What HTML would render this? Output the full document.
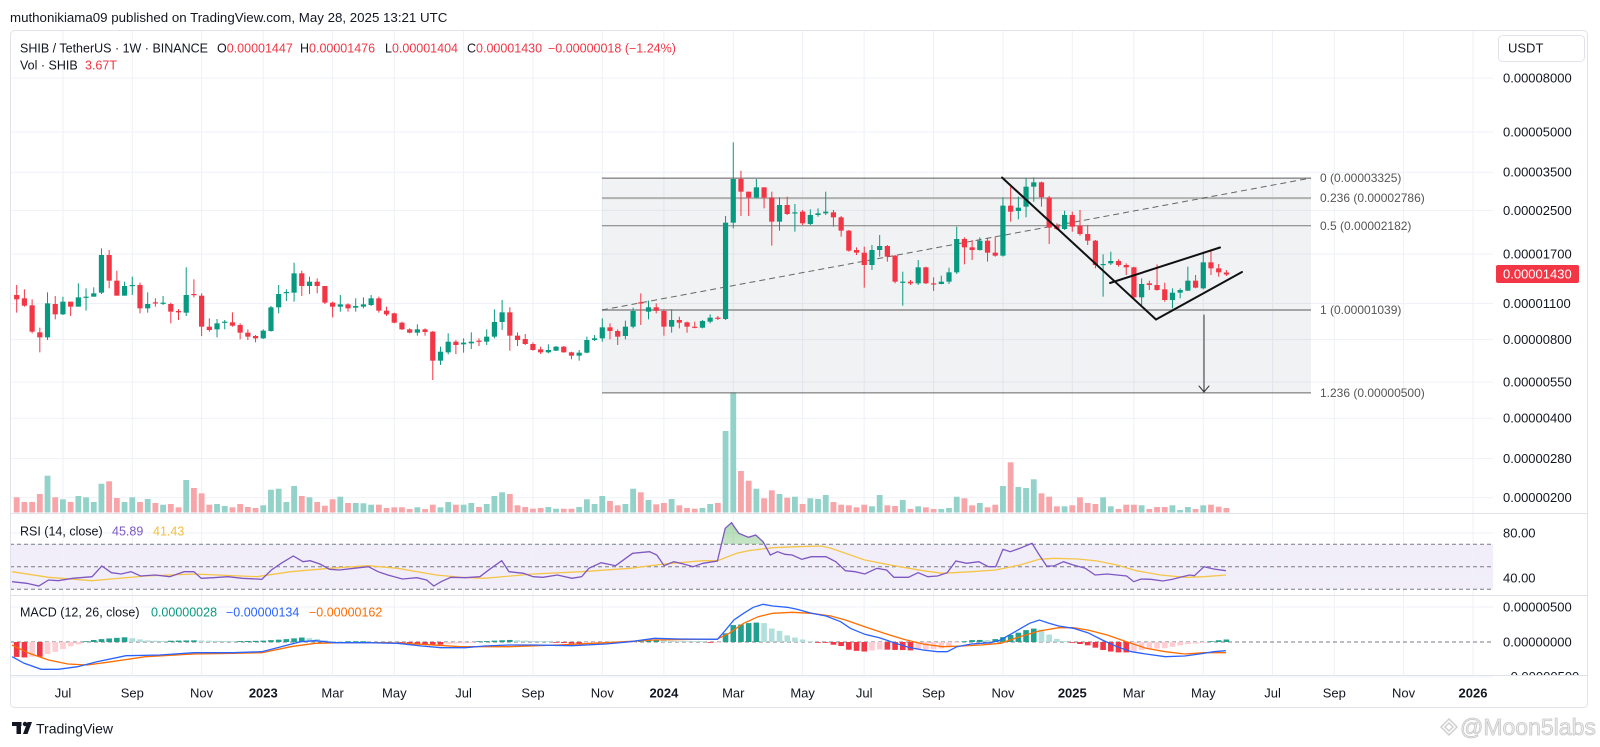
<!DOCTYPE html>
<html><head><meta charset="utf-8">
<style>
html,body{margin:0;padding:0;background:#fff;}
svg{display:block;font-family:"Liberation Sans",Arial,sans-serif;}
</style></head>
<body>
<svg id="c" width="1600" height="747" viewBox="0 0 1600 747" xmlns="http://www.w3.org/2000/svg">
<defs>
<clipPath id="obClip"><rect x="10" y="500" width="1483" height="44.3"/></clipPath>
<clipPath id="macdClip"><rect x="1490" y="596" width="100" height="79"/></clipPath>
<linearGradient id="gfill" x1="0" y1="0" x2="0" y2="1"><stop offset="0" stop-color="#4caf50" stop-opacity="0.45"/><stop offset="1" stop-color="#4caf50" stop-opacity="0.05"/></linearGradient>
</defs>
<rect width="1600" height="747" fill="#fff"/>
<rect x="10" y="544.3" width="1483" height="45" fill="#f2eef9"/>
<g id="grid"></g>
<g id="vol"></g>
<g id="fib">
<rect x="602" y="178.1" width="709" height="214.8" fill="#787b86" fill-opacity="0.1"/>
<line x1="602" x2="1311" y1="178.1" y2="178.1" stroke="#5d5d5d" stroke-width="1"/>
<line x1="602" x2="1311" y1="198.1" y2="198.1" stroke="#b0b0b0" stroke-width="2"/>
<line x1="602" x2="1311" y1="225.8" y2="225.8" stroke="#7a7a7a" stroke-width="1"/>
<line x1="602" x2="1311" y1="310" y2="310" stroke="#a5a5a5" stroke-width="2"/>
<line x1="602" x2="1311" y1="392.9" y2="392.9" stroke="#666" stroke-width="1"/>
<line x1="602" y1="310" x2="1311" y2="178" stroke="#666" stroke-width="1" stroke-dasharray="6,4"/>
</g>
<g id="candles"></g>
<g id="draw" stroke="#111" stroke-width="2" fill="none" stroke-linecap="round">
<line x1="1002" y1="177.5" x2="1156" y2="319.5"/>
<line x1="1156" y1="319.5" x2="1242" y2="272"/>
<line x1="1110" y1="283" x2="1220" y2="247.5"/>
<line x1="1204" y1="315" x2="1204" y2="392" stroke="#333" stroke-width="1"/>
<polyline points="1199,386 1204,392 1209,386" stroke="#333" stroke-width="1"/>
</g>
<g stroke="#787b86" stroke-width="1" stroke-dasharray="4,3">
<line x1="10" x2="1493" y1="544.3" y2="544.3"/>
<line x1="10" x2="1493" y1="566.8" y2="566.8"/>
<line x1="10" x2="1493" y1="589.3" y2="589.3"/>
<line x1="10" x2="1493" y1="642" y2="642"/>
</g>
<g id="ind"></g>
<rect x="10.5" y="30.5" width="1577" height="677" rx="4" fill="none" stroke="#e0e3eb"/>
<g stroke="#e0e3eb" stroke-width="1">
<line x1="10" x2="1588" y1="513.5" y2="513.5"/>
<line x1="10" x2="1588" y1="595.5" y2="595.5"/>
<line x1="10" x2="1588" y1="675.5" y2="675.5"/>
</g>
<g id="axis"></g>
<g font-size="12" fill="#555">
<text x="1320" y="182.2">0 (0.00003325)</text>
<text x="1320" y="202.2">0.236 (0.00002786)</text>
<text x="1320" y="229.9">0.5 (0.00002182)</text>
<text x="1320" y="314.1">1 (0.00001039)</text>
<text x="1320" y="397">1.236 (0.00000500)</text>
</g>
<text x="10" y="22" font-size="13.3" fill="#131722">muthonikiama09 published on TradingView.com, May 28, 2025 13:21 UTC</text>
<g font-size="12.5" fill="#131722">
<text x="20" y="52.5">SHIB / TetherUS · 1W · BINANCE</text>
<text x="217" y="52.5">O<tspan fill="#f23645">0.00001447</tspan></text>
<text x="300" y="52.5">H<tspan fill="#f23645">0.00001476</tspan></text>
<text x="385" y="52.5">L<tspan fill="#f23645">0.00001404</tspan></text>
<text x="467" y="52.5">C<tspan fill="#f23645">0.00001430</tspan></text>
<text x="548" y="52.5" fill="#f23645">−0.00000018 (−1.24%)</text>
<text x="20" y="69.5">Vol · SHIB</text>
<text x="85" y="69.5" fill="#f23645">3.67T</text>
<text x="20" y="535.5">RSI (14, close)</text>
<text x="112" y="535.5" fill="#7e57c2">45.89</text>
<text x="153" y="535.5" fill="#f2bf3c">41.43</text>
<text x="20" y="616.5">MACD (12, 26, close)</text>
<text x="151" y="616.5" fill="#089981">0.00000028</text>
<text x="226" y="616.5" fill="#2962ff">−0.00000134</text>
<text x="309" y="616.5" fill="#ff6d00">−0.00000162</text>
</g>
<rect x="1498.5" y="35.5" width="86" height="26" rx="4" fill="#fff" stroke="#e0e3eb"/>
<text x="1508" y="52.5" font-size="13" fill="#131722">USDT</text>
<g font-size="13" fill="#131722">
<text x="1503" y="537.5">80.00</text>
<text x="1503" y="582.5">40.00</text>
<text x="1503" y="611.5">0.00000500</text>
<text x="1503" y="646.5">0.00000000</text>
<text x="1503" y="681" clip-path="url(#macdClip)">−0.00000500</text>
</g>
<rect x="1496" y="265" width="83" height="18" rx="2" fill="#f23645"/>
<text x="1503" y="278.5" font-size="13" fill="#fff">0.00001430</text>
<g fill="#131722">
<rect x="12" y="722" width="9.5" height="4"/>
<rect x="16.5" y="722" width="4.5" height="12"/>
<circle cx="25" cy="724" r="2.2"/>
<polygon points="27.5,722 32,722 27.5,734 23,734"/>
</g>
<text x="36" y="733.5" font-size="14" fill="#131722">TradingView</text>
<g fill="none" stroke="#cfcfcf" stroke-width="1.5">
<polygon points="1449,719 1457,727 1449,735 1441,727"/>
<polygon points="1449,723 1453,727 1449,731 1445,727"/>
</g>
<text x="1460" y="735" font-size="23" fill="#ececec" stroke="#c9c9c9" stroke-width="0.8">@Moon5labs</text>
</svg>
<script>
(function(){
const NS="http://www.w3.org/2000/svg";
function E(tag,a,p){const e=document.createElementNS(NS,tag);for(const k in a)e.setAttribute(k,a[k]);p.appendChild(e);return e;}
const G=id=>document.getElementById(id);
const X=i=>16.7+7.705*i;
const tx=[63,132.3,201.6,263.3,332.6,394.3,463.6,533,602.3,663.9,733.3,802.6,864.2,933.6,1003,1072.3,1133.9,1203.3,1272.6,1334.3,1403.6,1473];
const tl=["Jul","Sep","Nov","2023","Mar","May","Jul","Sep","Nov","2024","Mar","May","Jul","Sep","Nov","2025","Mar","May","Jul","Sep","Nov","2026"];
const grid=G('grid'),axis=G('axis');
tx.forEach((x,k)=>{
  E('line',{x1:x,x2:x,y1:31,y2:675,stroke:'#eef1f7'},grid);
  const t=E('text',{x:x,y:697.5,'text-anchor':'middle','font-size':13,fill:'#131722','font-weight':/^\d/.test(tl[k])?'bold':'normal'},axis);
  t.textContent=tl[k];
});
const py=[78,132,172.2,210.4,254.1,303.5,339.6,382,418.2,458.6,497.7];
const pl=["0.00008000","0.00005000","0.00003500","0.00002500","0.00001700","0.00001100","0.00000800","0.00000550","0.00000400","0.00000280","0.00000200"];
py.forEach((y,k)=>{
  E('line',{x1:10,x2:1493,y1:y,y2:y,stroke:'#eef1f7'},grid);
  const t=E('text',{x:1503,y:y+4.5,'font-size':13,fill:'#131722'},axis);t.textContent=pl[k];
});
[533,578,607,677].forEach(y=>E('line',{x1:10,x2:1493,y1:y,y2:y,stroke:'#eef1f7'},grid));

const A=[[195,208,165,248,0],[205,227,178,230,0],[226,305,208,310,0],[307,322,293,367,0],[220,322,187,330,1],[222,253,198,268,0],[215,253,200,255,1],[215,230,215,258,0],[202,230,160,230,1],[200,203,175,242,1],[190,200,172,200,1],[75,188,55,192,1],[75,152,60,175,0],[152,197,122,197,0],[168,197,155,197,1],[165,168,140,195,1],[165,235,158,250,0],[222,235,187,248,1],[217,220,205,230,0],[218,221,198,225,1],[222,245,218,280,0],[243,247,237,270,0],[195,248,112,258,1],[192,195,148,202,0],[197,290,190,318,0],[290,300,265,305,0],[280,298,267,322,1],[275,277,270,298,1],[277,287,247,290,0],[285,308,280,328,0],[308,320,298,330,0],[318,325,315,337,0],[302,325,298,327,1],[232,303,228,305,1],[192,232,165,250,1],[186,189,178,213,1],[130,188,98,215,1],[130,168,122,198,0],[155,168,140,192,1],[155,168,145,190,0],[168,218,168,222,0],[218,230,215,262,0],[223,230,195,245,1],[223,235,220,245,0],[228,233,205,245,1],[223,230,202,235,1],[205,225,195,228,1],[205,242,200,248,0],[242,253,230,258,0],[250,278,248,280,0]];
const B=[[578,598,575,600,0],[598,608,595,610,0],[598,608,583,617,1],[598,606,595,617,0],[605,692,603,750,0],[665,692,650,705,1],[635,667,610,673,1],[635,645,630,672,0],[638,643,625,668,1],[635,640,607,657,1],[632,635,625,648,0],[620,635,598,645,1],[576,620,538,625,1],[547,576,510,600,1],[547,617,532,662,0],[617,630,607,648,0],[627,642,612,645,0],[642,660,637,662,0],[658,667,650,672,0],[660,667,643,670,1],[650,662,648,663,1],[650,667,648,668,0],[667,677,665,688,0],[668,677,660,692,1],[630,668,620,670,1],[625,630,615,633,1],[592,625,565,635,1],[592,603,580,628,0],[603,620,598,645,0],[590,618,572,628,1],[543,590,533,595,1],[517,520,490,585,0],[532,545,512,568,1],[532,542,520,550,0],[543,590,538,617,0],[570,590,538,608,1],[570,578,560,595,0],[577,590,575,608,0],[590,593,575,595,0],[573,593,570,595,1],[563,575,553,580,1],[563,566,558,570,0],[278,567,258,570,1],[147,278,37,295,1],[147,185,122,258,0],[185,203,185,258,0],[172,203,147,205,1],[172,203,172,235,0],[203,275,185,347,0],[225,275,202,302,1],[225,252,200,255,0],[247,250,222,305,1]];
const C=[[155,190,150,195,0],[165,192,148,195,1],[160,165,145,170,1],[155,160,95,165,1],[157,172,150,200,0],[172,212,168,230,0],[212,272,210,275,0],[270,278,262,285,0],[278,315,260,383,0],[270,315,255,330,1],[258,270,225,290,1],[258,290,255,305,0],[287,365,285,370,0],[365,367,335,437,1],[365,370,360,375,0],[322,370,300,375,1],[322,370,320,372,0],[370,372,352,393,0],[365,372,347,373,1],[337,365,323,372,1],[237,337,200,342,1],[237,262,232,313,0],[262,270,240,300,0],[242,270,232,272,1],[242,278,235,305,0],[278,287,230,290,0],[137,287,112,290,1],[137,155,80,185,0],[143,153,110,178,1],[80,140,55,172,1],[67,80,52,125,1],[67,112,65,140,0],[113,203,108,252,0],[198,207,190,210,0],[165,207,152,210,1],[165,200,155,215,0],[197,222,150,227,0],[222,242,195,255,0],[242,315,240,325,0],[312,315,283,410,1],[303,310,275,315,1],[303,315,298,320,0],[315,322,310,345,0],[322,412,320,415,0],[372,412,355,435,1],[370,375,362,390,0],[375,390,313,392,0],[388,420,368,425,0],[398,420,385,445,1],[390,398,385,415,1],[362,392,320,393,1],[362,383,345,385,0],[307,385,275,388,1],[307,325,270,345,0],[325,337,312,350,0]];
const K=[];
A.forEach(c=>K.push([230+c[0]/3,230+c[1]/3,230+c[2]/3,230+c[3]/3,c[4]]));
B.forEach(c=>K.push([130+c[0]/3,130+c[1]/3,130+c[2]/3,130+c[3]/3,c[4]]));
C.forEach(c=>K.push([160+c[0]/3,160+c[1]/3,160+c[2]/3,160+c[3]/3,c[4]]));
K.push([272.5,274.5,270,276,0]);

const vol=[497.3,502,502,494,475.7,497.3,499.3,502,496,497.3,502,483.7,481.3,498,502,497.3,502,499,503,504.7,504,507.3,480,488,493.3,504.7,504,506,507.3,504,507,508,505.3,489.7,488.7,502,486,496,497.3,502,505.7,499.3,496.7,503,503,503.3,504.7,504.7,508,507.3,507.3,509,507.3,509,504.7,507.3,502,504.7,504.7,503,507,504,496,492.3,494,505.3,507,508.7,508,507,508.7,508.7,508.7,507,499.3,504,496,501,505.3,504,488.7,492.3,500,504.3,503,499,505.3,508,508.7,508,504,503,431,392.3,471,480.7,488.7,498.3,490.3,494,497.7,496.7,504,498.3,499,495,502,504.7,505.3,507.3,504.7,506.3,495,505.3,506,500,509,506.3,507.3,509,509,508,496.7,498.3,505.3,503,507.3,504.7,486,462.3,487,488,479.3,493.3,496.7,506.3,506.3,505.3,497.3,503,504,497.3,506.3,509,504.7,504.7,505.3,509,507,507,505.3,510,507,509,505.3,504.7,506.7,508];
const vg=G('vol'),cg=G('candles');
const base=512.5;
K.forEach((c,i)=>{
  const x=X(i);
  const v=vol[i]!==undefined?vol[i]:508;
  E('rect',{x:x-2.9,y:v,width:5.8,height:Math.max(0.8,base-v),fill:c[4]?'#92d2c9':'#f8a5a9'},vg);
  const col=c[4]?'#089981':'#f23645';
  E('line',{x1:x,x2:x,y1:c[2],y2:c[3],stroke:col,'stroke-width':1},cg);
  const top=Math.min(c[0],c[1]),h=Math.max(1.2,Math.abs(c[1]-c[0]));
  E('rect',{x:x-2.6,y:top,width:5.2,height:h,fill:col},cg);
});

const ind=G('ind');
function T4(a){return a.map(p=>[p[0]/2.063,500+p[1]/3]);}
function T5(a){return a.map(p=>[700+p[0]/2.063,500+p[1]/3]);}
const rsi=T4([[25,245],[55,250],[80,258],[100,240],[120,242],[150,235],[190,230],[210,198],[230,218],[250,222],[270,215],[290,228],[320,225],[350,230],[380,215],[400,215],[415,235],[440,233],[470,230],[500,235],[540,238],[560,210],[580,190],[605,168],[625,185],[640,182],[660,192],[680,208],[700,210],[730,205],[760,200],[780,215],[800,225],[830,237],[860,233],[880,240],[895,258],[910,245],[930,232],[960,233],[990,230],[1010,208],[1035,182],[1050,215],[1080,220],[1100,230],[1120,232],[1150,225],[1180,235],[1200,230],[1215,205],[1240,188],[1270,197],[1305,160],[1340,155],[1355,165],[1370,197],[1390,185],[1410,192],[1430,200],[1450,190],[1480,183]]).concat(T5([[52,85],[65,68],[80,100],[100,112],[115,105],[130,125],[145,165],[160,155],[175,163],[190,165],[210,178],[230,170],[260,170],[280,185],[300,212],[320,215],[340,222],[365,205],[385,210],[400,232],[430,232],[450,218],[470,230],[490,228],[510,218],[528,183],[550,190],[575,185],[595,200],[610,200],[625,148],[640,155],[660,145],[685,130],[700,165],[715,198],[730,198],[750,185],[770,195],[795,205],[815,225],[840,222],[860,225],[880,228],[895,245],[910,237],[930,238],[955,243],[975,238],[995,230],[1010,225],[1020,227],[1040,200],[1060,207],[1085,212]]));
const rma=T4([[25,215],[100,232],[190,242],[300,228],[400,222],[530,230],[600,215],[680,205],[760,197],[820,205],[900,225],[950,232],[1000,235],[1100,222],[1200,215],[1300,205],[1370,192],[1450,182],[1480,182],[1520,160]]).concat(T5([[100,152],[150,143],[200,140],[250,138],[270,145],[300,160],[340,180],[400,197],[460,212],[500,220],[560,215],[610,210],[660,195],[700,178],[730,175],[780,177],[820,183],[860,195],[900,212],[950,225],[1000,232],[1040,230],[1085,225]]));
const blue=T4([[25,470],[50,490],[85,508],[120,508],[160,500],[200,485],[260,467],[330,465],[400,458],[480,458],[540,455],[580,440],[620,425],[650,422],[690,428],[760,428],[820,430],[870,438],[910,443],[960,443],[1000,438],[1050,435],[1100,435],[1180,437],[1250,432],[1300,425],[1350,415],[1400,417],[1480,418]]).concat(T5([[50,395],[70,360],[90,340],[110,322],[130,313],[150,318],[180,322],[200,328],[230,340],[260,348],[290,365],[310,385],[340,403],[370,413],[400,428],[430,442],[460,450],[490,455],[510,455],[530,440],[560,432],[600,428],[620,420],[650,395],[680,370],[700,360],[720,370],[740,378],[770,385],[800,398],[830,420],[860,440],[890,455],[920,462],[960,470],[1000,468],[1030,462],[1060,455],[1085,452]]));
const orng=T4([[25,435],[60,460],[100,480],[140,492],[180,495],[230,485],[300,470],[400,462],[480,460],[540,458],[600,440],[650,430],[700,428],[800,428],[870,433],[950,440],[1050,440],[1150,435],[1250,428],[1350,420],[1480,417]]).concat(T5([[60,400],[90,370],[120,350],[150,340],[190,337],[230,340],[270,348],[300,360],[340,380],[380,400],[420,418],[460,432],[500,440],[540,438],[580,435],[620,430],[660,410],[700,393],[740,383],[770,383],[800,390],[840,405],[880,425],[920,445],[960,455],[1000,462],[1040,458],[1085,458]]));
function interp(a,x){if(x<=a[0][0])return a[0][1];for(let k=1;k<a.length;k++){if(x<=a[k][0]){const p=a[k-1],q=a[k];return p[1]+(q[1]-p[1])*(x-p[0])/(q[0]-p[0]);}}return a[a.length-1][1];}
const pts=a=>a.map(p=>p[0].toFixed(1)+','+p[1].toFixed(1)).join(' ');
let prev=0;
for(let i=0;i<K.length;i++){
  const x=X(i);
  const f=(i>=92&&i<=99)?1.75:1.25;
  const h=(interp(orng,x)-interp(blue,x))*f;
  let col;
  if(h>=0) col=h>=prev?'#22a08f':'#b2dfdb'; else col=h<=prev?'#f23645':'#ffcdd2';
  const hh=Math.max(0.8,Math.abs(h));
  E('rect',{x:x-2.8,y:h>=0?642-hh:642,width:5.6,height:hh,fill:col},ind);
  prev=h;
}
const fp='M'+rsi.map(p=>p[0].toFixed(1)+','+p[1].toFixed(1)).join(' L')+' L'+rsi[rsi.length-1][0].toFixed(1)+',544.3 L'+rsi[0][0].toFixed(1)+',544.3 Z';
E('path',{d:fp,fill:'url(#gfill)','clip-path':'url(#obClip)'},ind);
E('polyline',{points:pts(rma),fill:'none',stroke:'#f5c54a','stroke-width':1.3},ind);
E('polyline',{points:pts(rsi),fill:'none',stroke:'#7e57c2','stroke-width':1.3},ind);
E('polyline',{points:pts(orng),fill:'none',stroke:'#ff6d00','stroke-width':1.3},ind);
E('polyline',{points:pts(blue),fill:'none',stroke:'#2962ff','stroke-width':1.3},ind);
})();
</script>
</body></html>
